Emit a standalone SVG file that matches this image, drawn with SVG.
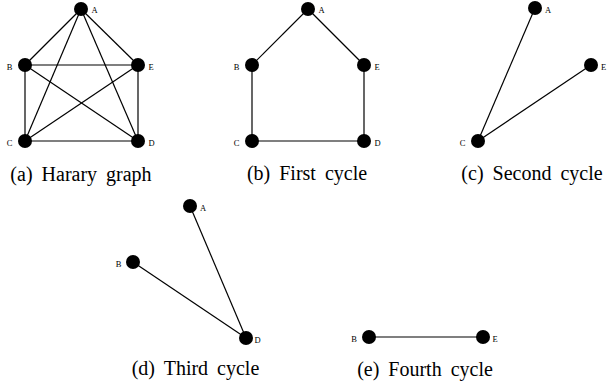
<svg xmlns="http://www.w3.org/2000/svg" width="608" height="385" viewBox="0 0 608 385">
  <style>
    .edge { stroke: #000; stroke-width: 1.2; fill: none; }
    .dot { fill: #000; }
    .lbl { font-family: "Liberation Serif", "Times New Roman", serif; font-size: 8.5px; fill: #000; }
    .cap { font-family: "Liberation Serif", "Times New Roman", serif; font-size: 20px; fill: #000; text-anchor: middle; word-spacing: 4px; }
  </style>
  <rect width="608" height="385" fill="#fff"/>

  <!-- (a) Harary graph -->
  <g id="harary">
    <g id="harary-edges">
      <line class="edge" x1="81" y1="9" x2="25" y2="65"/>
      <line class="edge" x1="81" y1="9" x2="138" y2="65"/>
      <line class="edge" x1="81" y1="9" x2="25" y2="141"/>
      <line class="edge" x1="81" y1="9" x2="138" y2="141"/>
      <line class="edge" x1="25" y1="65" x2="138" y2="65"/>
      <line class="edge" x1="25" y1="65" x2="25" y2="141"/>
      <line class="edge" x1="25" y1="65" x2="138" y2="141"/>
      <line class="edge" x1="138" y1="65" x2="25" y2="141"/>
      <line class="edge" x1="138" y1="65" x2="138" y2="141"/>
      <line class="edge" x1="25" y1="141" x2="138" y2="141"/>
    </g>
    <g id="a-A"><circle class="dot" cx="81" cy="9" r="7"/><text class="lbl" x="91.5" y="13">A</text></g>
    <g id="a-B"><circle class="dot" cx="25" cy="65" r="7"/><text class="lbl" x="12.5" y="69.5" text-anchor="end">B</text></g>
    <g id="a-E"><circle class="dot" cx="138" cy="65" r="7"/><text class="lbl" x="148.5" y="69.5">E</text></g>
    <g id="a-C"><circle class="dot" cx="25" cy="141" r="7"/><text class="lbl" x="12.5" y="145.5" text-anchor="end">C</text></g>
    <g id="a-D"><circle class="dot" cx="138" cy="141" r="7"/><text class="lbl" x="148.5" y="145.5">D</text></g>
    <text class="cap" x="81" y="181">(a) Harary graph</text>
  </g>

  <!-- (b) First cycle -->
  <g id="first-cycle">
    <g id="first-cycle-edges">
      <line class="edge" x1="308" y1="9" x2="252" y2="65"/>
      <line class="edge" x1="308" y1="9" x2="364" y2="65"/>
      <line class="edge" x1="252" y1="65" x2="252" y2="141"/>
      <line class="edge" x1="364" y1="65" x2="364" y2="141"/>
      <line class="edge" x1="252" y1="141" x2="364" y2="141"/>
    </g>
    <g id="b-A"><circle class="dot" cx="308" cy="9" r="7"/><text class="lbl" x="318.5" y="13">A</text></g>
    <g id="b-B"><circle class="dot" cx="252" cy="65" r="7"/><text class="lbl" x="239.5" y="69.5" text-anchor="end">B</text></g>
    <g id="b-E"><circle class="dot" cx="364" cy="65" r="7"/><text class="lbl" x="374.5" y="69.5">E</text></g>
    <g id="b-C"><circle class="dot" cx="252" cy="141" r="7"/><text class="lbl" x="239.5" y="145.5" text-anchor="end">C</text></g>
    <g id="b-D"><circle class="dot" cx="364" cy="141" r="7"/><text class="lbl" x="374.5" y="145.5">D</text></g>
    <text class="cap" x="307" y="180">(b) First cycle</text>
  </g>

  <!-- (c) Second cycle -->
  <g id="second-cycle">
    <g id="second-cycle-edges">
      <line class="edge" x1="535" y1="8" x2="478" y2="141"/>
      <line class="edge" x1="591" y1="65" x2="478" y2="141"/>
    </g>
    <g id="c-A"><circle class="dot" cx="535" cy="8" r="7"/><text class="lbl" x="545" y="12.5">A</text></g>
    <g id="c-E"><circle class="dot" cx="591" cy="65" r="7"/><text class="lbl" x="601" y="69.5">E</text></g>
    <g id="c-C"><circle class="dot" cx="478" cy="141" r="7"/><text class="lbl" x="465.5" y="145.5" text-anchor="end">C</text></g>
    <text class="cap" x="532" y="180">(c) Second cycle</text>
  </g>

  <!-- (d) Third cycle -->
  <g id="third-cycle">
    <g id="third-cycle-edges">
      <line class="edge" x1="190" y1="206" x2="246" y2="338"/>
      <line class="edge" x1="133" y1="262" x2="246" y2="338"/>
    </g>
    <g id="d-A"><circle class="dot" cx="190" cy="206" r="7"/><text class="lbl" x="200" y="210.5">A</text></g>
    <g id="d-B"><circle class="dot" cx="133" cy="262" r="7"/><text class="lbl" x="121.5" y="266.5" text-anchor="end">B</text></g>
    <g id="d-D"><circle class="dot" cx="246" cy="338" r="7"/><text class="lbl" x="254.5" y="342.5">D</text></g>
    <text class="cap" x="195.5" y="375">(d) Third cycle</text>
  </g>

  <!-- (e) Fourth cycle -->
  <g id="fourth-cycle">
    <g id="fourth-cycle-edges">
      <line class="edge" x1="369" y1="337" x2="483" y2="337"/>
    </g>
    <g id="e-B"><circle class="dot" cx="369" cy="337" r="7"/><text class="lbl" x="357" y="341.5" text-anchor="end">B</text></g>
    <g id="e-E"><circle class="dot" cx="483" cy="337" r="7"/><text class="lbl" x="492.5" y="341.5">E</text></g>
    <text class="cap" x="425" y="376">(e) Fourth cycle</text>
  </g>
</svg>
